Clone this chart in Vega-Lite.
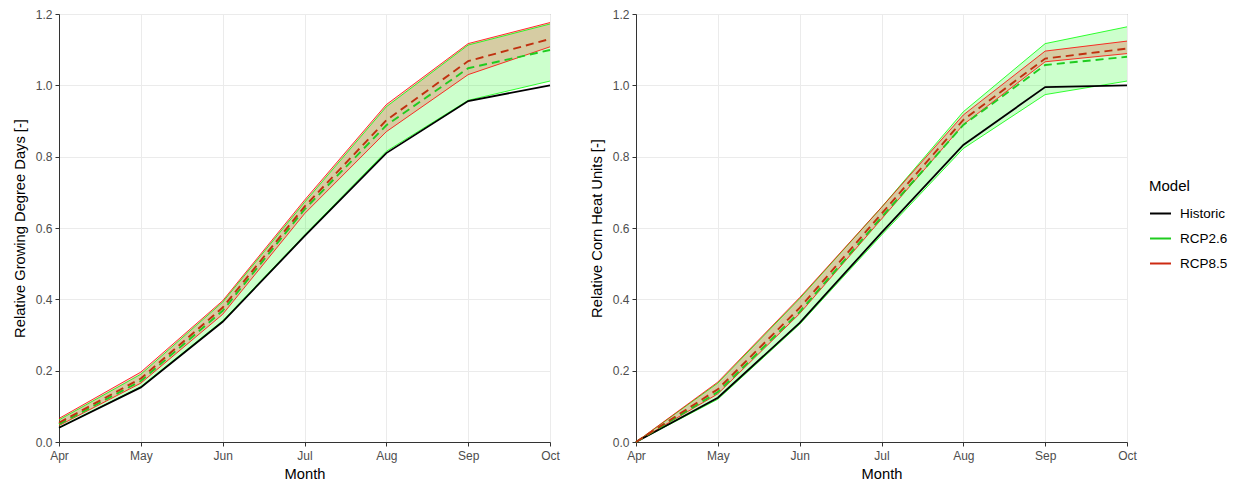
{
  "$schema": "https://vega.github.io/schema/vega-lite/v6.json",
  "padding": {"left": 11, "top": 7, "right": 5, "bottom": 5},
  "background": "white",
  "datasets": {
    "gdd": [
      {"month": "Apr", "model": "Historic", "mean": 0.040, "lo": null, "hi": null},
      {"month": "May", "model": "Historic", "mean": 0.153, "lo": null, "hi": null},
      {"month": "Jun", "model": "Historic", "mean": 0.337, "lo": null, "hi": null},
      {"month": "Jul", "model": "Historic", "mean": 0.577, "lo": null, "hi": null},
      {"month": "Aug", "model": "Historic", "mean": 0.810, "lo": null, "hi": null},
      {"month": "Sep", "model": "Historic", "mean": 0.956, "lo": null, "hi": null},
      {"month": "Oct", "model": "Historic", "mean": 1.000, "lo": null, "hi": null},
      {"month": "Apr", "model": "RCP2.6", "mean": 0.050, "lo": 0.040, "hi": 0.062},
      {"month": "May", "model": "RCP2.6", "mean": 0.171, "lo": 0.155, "hi": 0.190},
      {"month": "Jun", "model": "RCP2.6", "mean": 0.368, "lo": 0.340, "hi": 0.392},
      {"month": "Jul", "model": "RCP2.6", "mean": 0.652, "lo": 0.580, "hi": 0.672},
      {"month": "Aug", "model": "RCP2.6", "mean": 0.888, "lo": 0.815, "hi": 0.940},
      {"month": "Sep", "model": "RCP2.6", "mean": 1.048, "lo": 0.958, "hi": 1.113},
      {"month": "Oct", "model": "RCP2.6", "mean": 1.099, "lo": 1.012, "hi": 1.172},
      {"month": "Apr", "model": "RCP8.5", "mean": 0.054, "lo": 0.046, "hi": 0.066},
      {"month": "May", "model": "RCP8.5", "mean": 0.178, "lo": 0.165, "hi": 0.196},
      {"month": "Jun", "model": "RCP8.5", "mean": 0.377, "lo": 0.358, "hi": 0.396},
      {"month": "Jul", "model": "RCP8.5", "mean": 0.660, "lo": 0.640, "hi": 0.678},
      {"month": "Aug", "model": "RCP8.5", "mean": 0.902, "lo": 0.870, "hi": 0.946},
      {"month": "Sep", "model": "RCP8.5", "mean": 1.068, "lo": 1.030, "hi": 1.117},
      {"month": "Oct", "model": "RCP8.5", "mean": 1.130, "lo": 1.108, "hi": 1.176}
    ],
    "chu": [
      {"month": "Apr", "model": "Historic", "mean": 0.000, "lo": null, "hi": null},
      {"month": "May", "model": "Historic", "mean": 0.124, "lo": null, "hi": null},
      {"month": "Jun", "model": "Historic", "mean": 0.334, "lo": null, "hi": null},
      {"month": "Jul", "model": "Historic", "mean": 0.587, "lo": null, "hi": null},
      {"month": "Aug", "model": "Historic", "mean": 0.833, "lo": null, "hi": null},
      {"month": "Sep", "model": "Historic", "mean": 0.995, "lo": null, "hi": null},
      {"month": "Oct", "model": "Historic", "mean": 1.000, "lo": null, "hi": null},
      {"month": "Apr", "model": "RCP2.6", "mean": 0.000, "lo": 0.000, "hi": 0.000},
      {"month": "May", "model": "RCP2.6", "mean": 0.140, "lo": 0.120, "hi": 0.165},
      {"month": "Jun", "model": "RCP2.6", "mean": 0.365, "lo": 0.330, "hi": 0.402},
      {"month": "Jul", "model": "RCP2.6", "mean": 0.630, "lo": 0.580, "hi": 0.658},
      {"month": "Aug", "model": "RCP2.6", "mean": 0.889, "lo": 0.823, "hi": 0.926},
      {"month": "Sep", "model": "RCP2.6", "mean": 1.057, "lo": 0.974, "hi": 1.117},
      {"month": "Oct", "model": "RCP2.6", "mean": 1.080, "lo": 1.012, "hi": 1.164},
      {"month": "Apr", "model": "RCP8.5", "mean": 0.000, "lo": 0.000, "hi": 0.000},
      {"month": "May", "model": "RCP8.5", "mean": 0.148, "lo": 0.135, "hi": 0.168},
      {"month": "Jun", "model": "RCP8.5", "mean": 0.376, "lo": 0.360, "hi": 0.405},
      {"month": "Jul", "model": "RCP8.5", "mean": 0.640, "lo": 0.625, "hi": 0.658},
      {"month": "Aug", "model": "RCP8.5", "mean": 0.903, "lo": 0.890, "hi": 0.917},
      {"month": "Sep", "model": "RCP8.5", "mean": 1.075, "lo": 1.066, "hi": 1.096},
      {"month": "Oct", "model": "RCP8.5", "mean": 1.103, "lo": 1.089, "hi": 1.124}
    ]
  },
  "hconcat": [
    {
      "width": 491,
      "height": 428,
      "data": {"name": "gdd"},
      "encoding": {
        "x": {"field": "month", "type": "ordinal", "sort": ["Apr", "May", "Jun", "Jul", "Aug", "Sep", "Oct"], "scale": {"type": "point", "padding": 0}, "axis": {"title": "Month", "labelAngle": 0, "grid": true}}
      },
      "layer": [
        {"transform": [{"filter": "datum.model != 'Historic'"}], "mark": {"type": "area", "fillOpacity": 0.2},
         "encoding": {"y": {"field": "lo", "type": "quantitative", "scale": {"domain": [0, 1.2], "nice": false}, "axis": {"title": "Relative Growing Degree Days [-]", "values": [0, 0.2, 0.4, 0.6, 0.8, 1.0, 1.2], "format": ".1f"}}, "y2": {"field": "hi"},
           "fill": {"field": "model", "type": "nominal", "scale": {"domain": ["RCP2.6", "RCP8.5"], "range": ["#00FF00", "#FF0000"]}, "legend": null}}},
        {"transform": [{"filter": "datum.model != 'Historic'"}], "mark": {"type": "line", "strokeWidth": 0.8},
         "encoding": {"y": {"field": "lo", "type": "quantitative"}, "stroke": {"field": "model", "type": "nominal", "scale": {"domain": ["RCP2.6", "RCP8.5"], "range": ["#00FF00", "#FF0000"]}, "legend": null}}},
        {"transform": [{"filter": "datum.model != 'Historic'"}], "mark": {"type": "line", "strokeWidth": 0.8},
         "encoding": {"y": {"field": "hi", "type": "quantitative"}, "stroke": {"field": "model", "type": "nominal", "scale": {"domain": ["RCP2.6", "RCP8.5"], "range": ["#00FF00", "#FF0000"]}, "legend": null}}},
        {"transform": [{"filter": "datum.model == 'Historic'"}], "mark": {"type": "line", "strokeWidth": 1.8},
         "encoding": {"y": {"field": "mean", "type": "quantitative"},
           "color": {"field": "model", "type": "nominal", "scale": {"domain": ["Historic", "RCP2.6", "RCP8.5"], "range": ["#000000", "#1FCC1F", "#CD2A12"]}, "legend": {"title": "Model"}}}},
        {"transform": [{"filter": "datum.model == 'RCP2.6'"}], "mark": {"type": "line", "strokeWidth": 1.9, "color": "#1FCC1F", "strokeDash": [8, 5]},
         "encoding": {"y": {"field": "mean", "type": "quantitative"}}},
        {"transform": [{"filter": "datum.model == 'RCP8.5'"}], "mark": {"type": "line", "strokeWidth": 1.9, "color": "#C0300F", "strokeDash": [8, 5]},
         "encoding": {"y": {"field": "mean", "type": "quantitative"}}}
      ]
    },
    {
      "width": 491,
      "height": 428,
      "data": {"name": "chu"},
      "encoding": {
        "x": {"field": "month", "type": "ordinal", "sort": ["Apr", "May", "Jun", "Jul", "Aug", "Sep", "Oct"], "scale": {"type": "point", "padding": 0}, "axis": {"title": "Month", "labelAngle": 0, "grid": true}}
      },
      "layer": [
        {"transform": [{"filter": "datum.model != 'Historic'"}], "mark": {"type": "area", "fillOpacity": 0.2},
         "encoding": {"y": {"field": "lo", "type": "quantitative", "scale": {"domain": [0, 1.2], "nice": false}, "axis": {"title": "Relative Corn Heat Units [-]", "values": [0, 0.2, 0.4, 0.6, 0.8, 1.0, 1.2], "format": ".1f"}}, "y2": {"field": "hi"},
           "fill": {"field": "model", "type": "nominal", "scale": {"domain": ["RCP2.6", "RCP8.5"], "range": ["#00FF00", "#FF0000"]}, "legend": null}}},
        {"transform": [{"filter": "datum.model != 'Historic'"}], "mark": {"type": "line", "strokeWidth": 0.8},
         "encoding": {"y": {"field": "lo", "type": "quantitative"}, "stroke": {"field": "model", "type": "nominal", "scale": {"domain": ["RCP2.6", "RCP8.5"], "range": ["#00FF00", "#FF0000"]}, "legend": null}}},
        {"transform": [{"filter": "datum.model != 'Historic'"}], "mark": {"type": "line", "strokeWidth": 0.8},
         "encoding": {"y": {"field": "hi", "type": "quantitative"}, "stroke": {"field": "model", "type": "nominal", "scale": {"domain": ["RCP2.6", "RCP8.5"], "range": ["#00FF00", "#FF0000"]}, "legend": null}}},
        {"transform": [{"filter": "datum.model == 'Historic'"}], "mark": {"type": "line", "strokeWidth": 1.8},
         "encoding": {"y": {"field": "mean", "type": "quantitative"},
           "color": {"field": "model", "type": "nominal", "scale": {"domain": ["Historic", "RCP2.6", "RCP8.5"], "range": ["#000000", "#1FCC1F", "#CD2A12"]}, "legend": {"title": "Model"}}}},
        {"transform": [{"filter": "datum.model == 'RCP2.6'"}], "mark": {"type": "line", "strokeWidth": 1.9, "color": "#1FCC1F", "strokeDash": [8, 5]},
         "encoding": {"y": {"field": "mean", "type": "quantitative"}}},
        {"transform": [{"filter": "datum.model == 'RCP8.5'"}], "mark": {"type": "line", "strokeWidth": 1.9, "color": "#C0300F", "strokeDash": [8, 5]},
         "encoding": {"y": {"field": "mean", "type": "quantitative"}}}
      ]
    }
  ],
  "spacing": 28,
  "config": {
    "font": "Liberation Sans",
    "view": {"stroke": "#8C8C8C", "strokeWidth": 1},
    "axis": {"labelFont": "Liberation Sans", "labelFontSize": 12, "labelColor": "#4D4D4D", "titleFont": "Liberation Sans", "titleFontSize": 14.7, "titleColor": "#000000", "titleFontWeight": "normal", "tickColor": "#333333", "domainColor": "#333333", "gridColor": "#EBEBEB", "gridWidth": 1, "tickSize": 4, "labelPadding": 3},
    "axisX": {"titlePadding": 5, "labelPadding": 4},
    "axisY": {"titlePadding": 8},
    "legend": {"orient": "none", "legendX": 1090, "legendY": 165, "symbolType": "stroke", "symbolSize": 441, "symbolStrokeWidth": 2, "labelOffset": 8, "labelFont": "Liberation Sans", "labelFontSize": 13.5, "labelColor": "#000000", "titleFont": "Liberation Sans", "titleFontSize": 15, "titleFontWeight": "normal", "titleColor": "#000000", "rowPadding": 7, "titlePadding": 8}
  }
}
